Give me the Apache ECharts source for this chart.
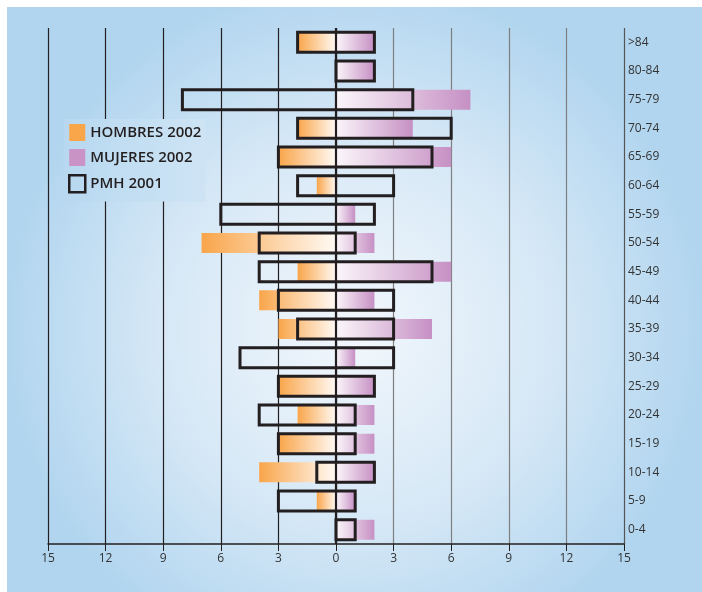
<!DOCTYPE html>
<html>
<head>
<meta charset="utf-8">
<script src="https://cdn.jsdelivr.net/npm/echarts@6/dist/echarts.min.js"></script>
<style>
html,body{margin:0;padding:0;background:#ffffff;}
#main{width:702px;height:592px;}
</style>
</head>
<body>
<div id="main"></div>
<script>
const categories = ['0-4','5-9','10-14','15-19','20-24','25-29','30-34','35-39','40-44','45-49','50-54','55-59','60-64','65-69','70-74','75-79','80-84','>84'];
const hombres2002 = [0,1,4,3,2,3,0,3,4,2,7,0,1,3,2,0,0,2];
const mujeres2002 = [2,1,2,2,2,2,1,5,2,6,2,1,0,6,4,7,2,2];
const pmh2001Hombres = [0,3,1,3,4,3,5,2,3,4,4,6,2,3,2,8,0,2];
const pmh2001Mujeres = [1,1,2,1,1,2,3,3,3,5,1,2,3,5,6,4,2,2];
const xTicks = [-15,-12,-9,-6,-3,0,3,6,9,12,15];

const chart = echarts.init(document.getElementById('main'));
const font = "'Open Sans', 'DejaVu Sans', sans-serif";
const dark = '#231f20';

const orangeGrad = new echarts.graphic.LinearGradient(0,0,1,0,[
  {offset:0,color:'#f9a54a'},{offset:1,color:'#fffaf4'}]);
const pinkGrad = new echarts.graphic.LinearGradient(0,0,1,0,[
  {offset:0,color:'#fbf6fa'},{offset:1,color:'#c690c4'}]);
const legendBg = new echarts.graphic.LinearGradient(0,0,1,0,[
  {offset:0,color:'#b7d8f0'},{offset:0.5,color:'#c3def2'},{offset:1,color:'#cee4f5'}]);

chart.setOption({
  animation:false,
  backgroundColor:'transparent',
  graphic:[{
    type:'rect', z:-10, silent:true,
    shape:{x:7,y:7,width:695,height:585},
    style:{fill:new echarts.graphic.RadialGradient(0.5,0.55,0.6,[
      {offset:0,color:'#f2f7fc'},{offset:0.55,color:'#d6e8f6'},{offset:1,color:'#b1d5ef'}],false)}
  }],
  grid:{left:48,right:78,top:28,bottom:48},
  legend:{
    orient:'vertical', left:64, top:119, itemGap:8, itemWidth:16, itemHeight:17,
    padding:[5,4,8,4], backgroundColor:legendBg,
    textStyle:{fontFamily:font,fontSize:15,fontWeight:600,color:dark},
    data:[
      {name:'HOMBRES 2002',icon:'rect',itemStyle:{color:'#f9a54a'}},
      {name:'MUJERES 2002',icon:'rect',itemStyle:{color:'#c993c5'}},
      {name:'PMH 2001',icon:'rect',itemStyle:{color:'rgba(0,0,0,0)',borderColor:dark,borderWidth:2.5}}
    ],
    selectedMode:false
  },
  xAxis:{
    type:'value', min:-15, max:15, interval:3,
    axisLine:{show:true,lineStyle:{color:dark,width:1.5}},
    axisTick:{show:true,length:7,lineStyle:{color:dark}},
    axisLabel:{fontFamily:font,fontSize:12,color:'#333',margin:9,
      formatter:v=>String(Math.abs(v))},
    splitLine:{show:true,lineStyle:{width:1.2,color:[dark,dark,dark,dark,dark,dark,'#7f7f7f','#7f7f7f','#7f7f7f','#7f7f7f','#555']}}
  },
  yAxis:{
    type:'category', data:categories, position:'right',
    axisLine:{show:false}, axisTick:{show:false},
    axisLabel:{fontFamily:font,fontSize:12,color:'#333',margin:4,align:'left'},
    splitLine:{show:false}
  },
  series:[
    {name:'HOMBRES 2002',type:'bar',barWidth:'70%',barGap:'-100%',
     data:hombres2002.map(v=>-v),itemStyle:{color:orangeGrad},z:2},
    {name:'MUJERES 2002',type:'bar',barWidth:'70%',barGap:'-100%',
     data:mujeres2002,itemStyle:{color:pinkGrad},z:2,
     markLine:{silent:true,symbol:'none',label:{show:false},
       lineStyle:{color:dark,width:2.2,type:'solid'},
       data:[{xAxis:0}]}},
    {name:'PMH 2001',type:'custom',z:5,
     data:categories.map((c,i)=>[i,-pmh2001Hombres[i],pmh2001Mujeres[i]]),
     encode:{y:0,x:[1,2]},
     renderItem:function(params,api){
       const idx=api.value(0);
       const p1=api.coord([api.value(1),idx]);
       const p2=api.coord([api.value(2),idx]);
       const h=api.size([0,1])[1]*0.7;
       return {type:'rect',
         shape:{x:p1[0],y:p1[1]-h/2,width:p2[0]-p1[0],height:h},
         style:{fill:'rgba(0,0,0,0)',stroke:dark,lineWidth:3}};
     }}
  ]
});
</script>
</body>
</html>
